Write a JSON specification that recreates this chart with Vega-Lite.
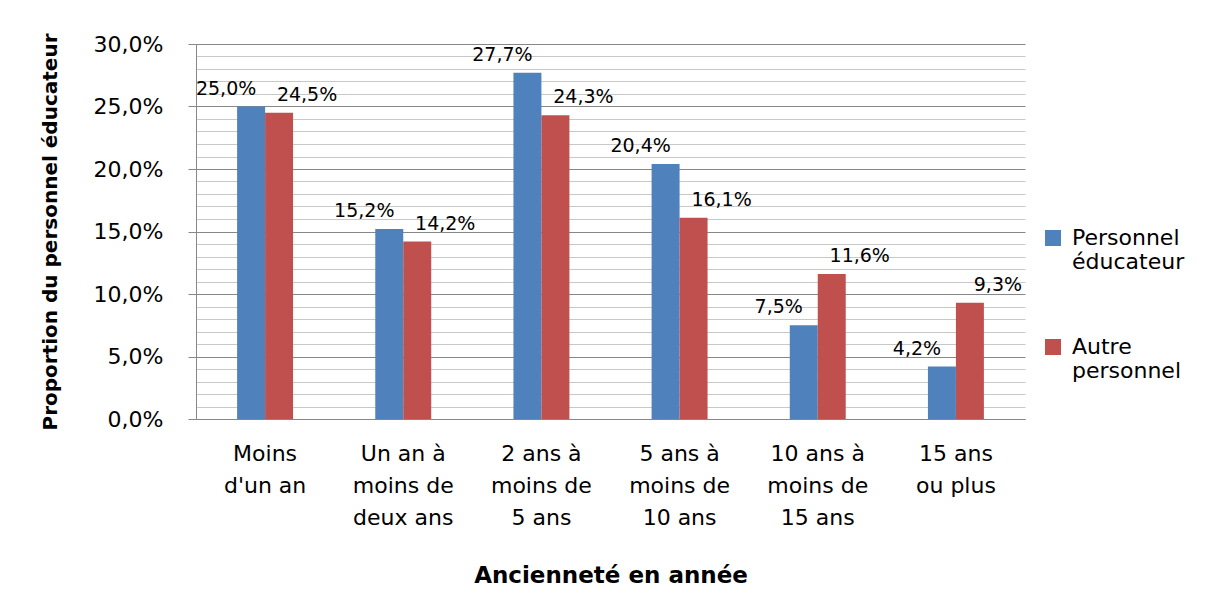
{
  "$schema": "https://vega.github.io/schema/vega-lite/v6.json",
  "autosize": "none",
  "padding": {"left": 196, "top": 44, "right": 187, "bottom": 174},
  "width": 829,
  "height": 375,
  "background": "white",
  "config": {
    "locale": {"number": {"decimal": ",", "thousands": " ", "grouping": [3], "currency": ["", " €"]}},
    "view": {"stroke": null},
    "font": "DejaVu Sans"
  },
  "data": {
    "values": [
      {"cat": "Moins|d'un an", "serie": "Personnel éducateur", "v": 0.250},
      {"cat": "Moins|d'un an", "serie": "Autre personnel", "v": 0.245},
      {"cat": "Un an à|moins de|deux ans", "serie": "Personnel éducateur", "v": 0.152},
      {"cat": "Un an à|moins de|deux ans", "serie": "Autre personnel", "v": 0.142},
      {"cat": "2 ans à|moins de|5 ans", "serie": "Personnel éducateur", "v": 0.277},
      {"cat": "2 ans à|moins de|5 ans", "serie": "Autre personnel", "v": 0.243},
      {"cat": "5 ans à|moins de|10 ans", "serie": "Personnel éducateur", "v": 0.204},
      {"cat": "5 ans à|moins de|10 ans", "serie": "Autre personnel", "v": 0.161},
      {"cat": "10 ans à|moins de|15 ans", "serie": "Personnel éducateur", "v": 0.075},
      {"cat": "10 ans à|moins de|15 ans", "serie": "Autre personnel", "v": 0.116},
      {"cat": "15 ans|ou plus", "serie": "Personnel éducateur", "v": 0.042},
      {"cat": "15 ans|ou plus", "serie": "Autre personnel", "v": 0.093}
    ]
  },
  "encoding": {
    "x": {
      "field": "cat", "type": "nominal", "sort": null,
      "scale": {"paddingInner": 0.595, "paddingOuter": 0.2975},
      "axis": {
        "labelExpr": "split(datum.label, '|')",
        "labelAngle": 0,
        "labelFontSize": 22,
        "labelLineHeight": 32,
        "labelPadding": 24,
        "labelLimit": 0,
        "labelColor": "black",
        "ticks": false,
        "tickSize": 0,
        "domainColor": "#878787",
        "title": "Ancienneté en année",
        "titleFontSize": 23,
        "titleFontWeight": "bold",
        "titleColor": "black",
        "titleY": 156,
        "titleBaseline": "middle"
      }
    },
    "xOffset": {
      "field": "serie", "type": "nominal",
      "sort": ["Personnel éducateur", "Autre personnel"],
      "scale": {"paddingInner": 0, "paddingOuter": 0}
    },
    "y": {
      "field": "v", "type": "quantitative",
      "scale": {"domain": [0, 0.3], "nice": false},
      "axis": {
        "values": [0, 0.01, 0.02, 0.03, 0.04, 0.05, 0.06, 0.07, 0.08, 0.09, 0.1, 0.11, 0.12, 0.13, 0.14, 0.15, 0.16, 0.17, 0.18, 0.19, 0.2, 0.21, 0.22, 0.23, 0.24, 0.25, 0.26, 0.27, 0.28, 0.29, 0.3],
        "format": ".1%",
        "labelExpr": "round(datum.value*100) % 5 == 0 ? datum.label : ''",
        "gridColor": {"condition": {"test": "round(datum.value*100) % 5 == 0", "value": "#878787"}, "value": "#C8C8C8"},
        "tickColor": {"condition": {"test": "round(datum.value*100) % 5 == 0", "value": "#878787"}, "value": "transparent"},
        "tickSize": 8,
        "domainColor": "#878787",
        "labelFontSize": 22,
        "labelPadding": 25,
        "labelColor": "black",
        "title": "Proportion du personnel éducateur",
        "titleFontSize": 20,
        "titleFontWeight": "bold",
        "titleColor": "black",
        "titleX": -146,
        "titleY": 187.5,
        "titleBaseline": "middle",
        "titleAlign": "center"
      }
    }
  },
  "layer": [
    {
      "mark": {"type": "bar"},
      "encoding": {
        "color": {
          "field": "serie", "type": "nominal",
          "sort": ["Personnel éducateur", "Autre personnel"],
          "scale": {"domain": ["Personnel éducateur", "Autre personnel"], "range": ["#4F81BD", "#C0504D"]},
          "legend": {
            "orient": "none",
            "legendX": 846,
            "legendY": 183,
            "title": null,
            "symbolType": "square",
            "symbolSize": 256,
            "symbolStrokeWidth": 0,
            "labelFontSize": 22,
            "labelColor": "black",
            "labelOffset": 8,
            "labelLimit": 0,
            "rowPadding": 63,
            "labelExpr": "datum.label == 'Personnel éducateur' ? ['Personnel', 'éducateur'] : ['Autre', 'personnel']"
          }
        }
      }
    },
    {
      "transform": [{"filter": "datum.serie == 'Personnel éducateur'"}],
      "mark": {"type": "text", "dx": -25, "dy": -8, "baseline": "bottom", "fontSize": 19, "color": "black"},
      "encoding": {"text": {"field": "v", "type": "quantitative", "format": ".1%"}}
    },
    {
      "transform": [{"filter": "datum.serie == 'Autre personnel'"}],
      "mark": {"type": "text", "dx": 28, "dy": -8, "baseline": "bottom", "fontSize": 19, "color": "black"},
      "encoding": {"text": {"field": "v", "type": "quantitative", "format": ".1%"}}
    }
  ]
}
